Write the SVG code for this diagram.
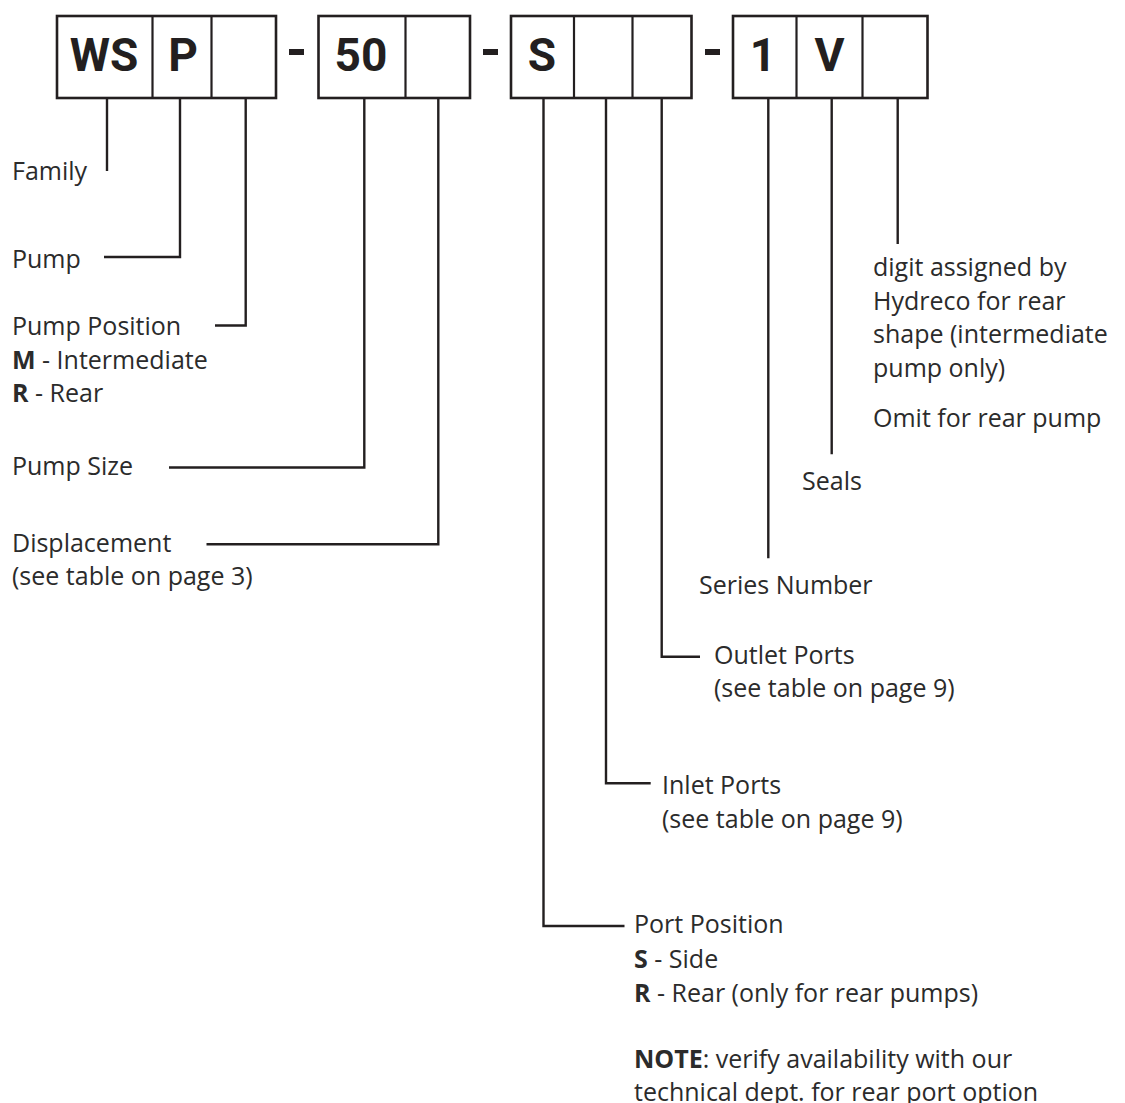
<svg xmlns="http://www.w3.org/2000/svg" width="1125" height="1103" viewBox="0 0 1125 1103">
<style>
.box{fill:none;stroke:#231f20;stroke-width:2.6}
.div{stroke:#231f20;stroke-width:2.2}
.dash{fill:#231f20}
.code{font-family:Roboto,"Liberation Sans",sans-serif;font-weight:700;font-size:46px;fill:#231f20;text-anchor:middle}
.lbl{font-family:"Open Sans","DejaVu Sans",sans-serif;font-size:25px;fill:#2b2b2b}
.b{font-weight:700}
.ln{fill:none;stroke:#231f20;stroke-width:2.4}
</style>
<rect width="1125" height="1103" fill="#ffffff"/>
<g id="code-boxes">
  <g id="group1">
    <rect class="box" x="57" y="16" width="219" height="82"/>
    <line class="div" x1="152.5" y1="16" x2="152.5" y2="98"/>
    <line class="div" x1="211.5" y1="16" x2="211.5" y2="98"/>
    <text class="code" x="104" y="71">WS</text>
    <text class="code" x="183" y="71">P</text>
  </g>
  <rect id="dash1" class="dash" x="289" y="49" width="15" height="6"/>
  <g id="group2">
    <rect class="box" x="318.5" y="16" width="151.5" height="82"/>
    <line class="div" x1="405.5" y1="16" x2="405.5" y2="98"/>
    <text class="code" x="361" y="71">50</text>
  </g>
  <rect id="dash2" class="dash" x="483" y="49" width="15" height="6"/>
  <g id="group3">
    <rect class="box" x="511" y="16" width="180.5" height="82"/>
    <line class="div" x1="574" y1="16" x2="574" y2="98"/>
    <line class="div" x1="632.5" y1="16" x2="632.5" y2="98"/>
    <text class="code" x="542" y="71">S</text>
  </g>
  <rect id="dash3" class="dash" x="705" y="49" width="15" height="6"/>
  <g id="group4">
    <rect class="box" x="733" y="16" width="194.5" height="82"/>
    <line class="div" x1="796.5" y1="16" x2="796.5" y2="98"/>
    <line class="div" x1="862.5" y1="16" x2="862.5" y2="98"/>
    <text class="code" x="763" y="71">1</text>
    <text class="code" x="829.5" y="71">V</text>
  </g>
</g>
<g id="connectors">
  <polyline class="ln" points="107,99 107,171"/>
  <polyline class="ln" points="180,99 180,257 104,257"/>
  <polyline class="ln" points="245.7,99 245.7,325.5 215,325.5"/>
  <polyline class="ln" points="364.3,99 364.3,467.5 169,467.5"/>
  <polyline class="ln" points="438.3,99 438.3,544.3 206.5,544.3"/>
  <polyline class="ln" points="543.5,99 543.5,926 624.5,926"/>
  <polyline class="ln" points="606,99 606,783.3 650.7,783.3"/>
  <polyline class="ln" points="661.7,99 661.7,656.7 700,656.7"/>
  <polyline class="ln" points="768.3,99 768.3,558.3"/>
  <polyline class="ln" points="831.7,99 831.7,454.3"/>
  <polyline class="ln" points="897.7,99 897.7,244"/>
</g>
<g id="label-family"><text class="lbl" x="12" y="180">Family</text></g>
<g id="label-pump"><text class="lbl" x="12" y="268">Pump</text></g>
<g id="label-pump-position">
  <text class="lbl" x="12" y="335">Pump Position</text>
  <text class="lbl" x="12" y="369"><tspan class="b">M</tspan> - Intermediate</text>
  <text class="lbl" x="12" y="402"><tspan class="b">R</tspan> - Rear</text>
</g>
<g id="label-pump-size"><text class="lbl" x="12" y="475">Pump Size</text></g>
<g id="label-displacement">
  <text class="lbl" x="12" y="552">Displacement</text>
  <text class="lbl" x="12" y="585">(see table on page 3)</text>
</g>
<g id="label-digit">
  <text class="lbl" x="873" y="276">digit assigned by</text>
  <text class="lbl" x="873" y="310">Hydreco for rear</text>
  <text class="lbl" x="873" y="343">shape (intermediate</text>
  <text class="lbl" x="873" y="377">pump only)</text>
  <text class="lbl" x="873" y="427">Omit for rear pump</text>
</g>
<g id="label-seals"><text class="lbl" x="802" y="490">Seals</text></g>
<g id="label-series"><text class="lbl" x="699" y="594">Series Number</text></g>
<g id="label-outlet">
  <text class="lbl" x="714" y="664">Outlet Ports</text>
  <text class="lbl" x="714" y="697">(see table on page 9)</text>
</g>
<g id="label-inlet">
  <text class="lbl" x="662" y="794">Inlet Ports</text>
  <text class="lbl" x="662" y="828">(see table on page 9)</text>
</g>
<g id="label-port-position">
  <text class="lbl" x="634" y="933">Port Position</text>
  <text class="lbl" x="634" y="968"><tspan class="b">S</tspan> - Side</text>
  <text class="lbl" x="634" y="1002"><tspan class="b">R</tspan> - Rear (only for rear pumps)</text>
  <text class="lbl" x="634" y="1068"><tspan class="b">NOTE</tspan>: verify availability with our</text>
  <text class="lbl" x="634" y="1101">technical dept. for rear port option</text>
</g>
</svg>
